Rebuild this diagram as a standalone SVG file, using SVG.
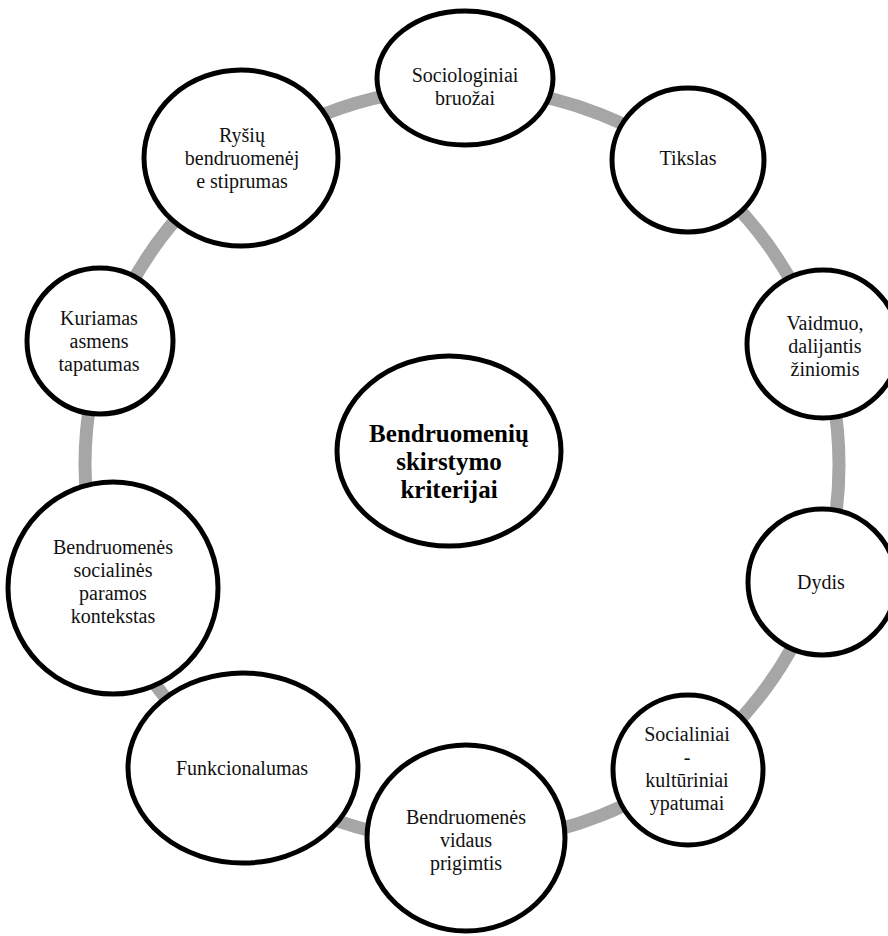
<svg xmlns="http://www.w3.org/2000/svg" width="888" height="936" viewBox="0 0 888 936">
<style>
.n{fill:#fff;stroke:#000;stroke-width:5}
.t{font-family:"Liberation Serif","Times New Roman",serif;font-size:20px;fill:#111;text-anchor:middle}
.b{font-family:"Liberation Serif","Times New Roman",serif;font-size:25px;font-weight:bold;fill:#000;text-anchor:middle}
</style>
<rect width="888" height="936" fill="#fff"/>
<g id="connectors">
<circle cx="462" cy="465" r="377" fill="none" stroke="#a6a6a6" stroke-width="13"/>
</g>
<g id="center">
<ellipse class="n" cx="449" cy="451" rx="112" ry="95"/>
<text class="b" x="449" y="442">Bendruomenių</text>
<text class="b" x="449" y="470">skirstymo</text>
<text class="b" x="449" y="498">kriterijai</text>
</g>
<g id="n1">
<ellipse class="n" cx="465" cy="78" rx="88" ry="67"/>
<text class="t" x="465" y="82">Sociologiniai</text>
<text class="t" x="465" y="105">bruožai</text>
</g>
<g id="n2">
<ellipse class="n" cx="688" cy="160" rx="76" ry="72"/>
<text class="t" x="688" y="165">Tikslas</text>
</g>
<g id="n3">
<ellipse class="n" cx="823" cy="344" rx="76" ry="74"/>
<text class="t" x="825" y="330">Vaidmuo,</text>
<text class="t" x="825" y="353">dalijantis</text>
<text class="t" x="825" y="376">žiniomis</text>
</g>
<g id="n4">
<ellipse class="n" cx="822" cy="582" rx="74" ry="73"/>
<text class="t" x="821" y="589">Dydis</text>
</g>
<g id="n5">
<ellipse class="n" cx="688" cy="770" rx="75" ry="75"/>
<text class="t" x="687" y="741">Socialiniai</text>
<text class="t" x="687" y="764">-</text>
<text class="t" x="687" y="787">kultūriniai</text>
<text class="t" x="687" y="810">ypatumai</text>
</g>
<g id="n6">
<ellipse class="n" cx="466" cy="838" rx="99" ry="93"/>
<text class="t" x="466" y="824">Bendruomenės</text>
<text class="t" x="466" y="847">vidaus</text>
<text class="t" x="466" y="870">prigimtis</text>
</g>
<g id="n7">
<ellipse class="n" cx="243" cy="768" rx="115" ry="95"/>
<text class="t" x="242" y="775">Funkcionalumas</text>
</g>
<g id="n8">
<ellipse class="n" cx="113" cy="588" rx="105" ry="106"/>
<text class="t" x="113" y="554">Bendruomenės</text>
<text class="t" x="113" y="577">socialinės</text>
<text class="t" x="113" y="600">paramos</text>
<text class="t" x="113" y="623">kontekstas</text>
</g>
<g id="n9">
<ellipse class="n" cx="100" cy="341" rx="73" ry="73"/>
<text class="t" x="99" y="325">Kuriamas</text>
<text class="t" x="99" y="348">asmens</text>
<text class="t" x="99" y="371">tapatumas</text>
</g>
<g id="n10">
<ellipse class="n" cx="241" cy="158" rx="97" ry="88"/>
<text class="t" x="242" y="142">Ryšių</text>
<text class="t" x="242" y="165">bendruomenėj</text>
<text class="t" x="242" y="188">e stiprumas</text>
</g>
</svg>
